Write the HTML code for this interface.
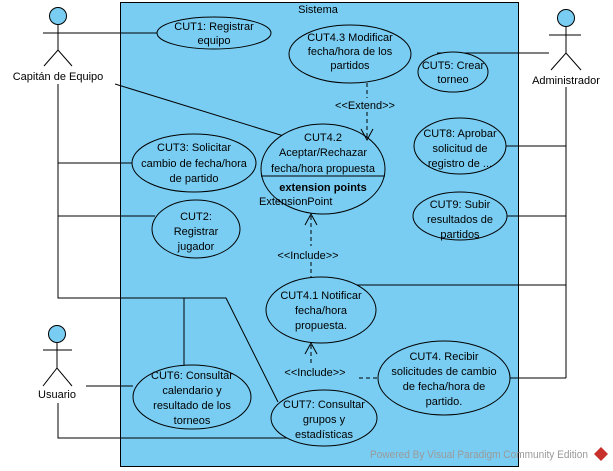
<!DOCTYPE html>
<html><head><meta charset="utf-8"><style>
html,body{margin:0;padding:0;background:#fff;}
svg{display:block;}
text{font-family:"Liberation Sans",sans-serif;font-size:11px;fill:#000;}
</style></head><body>
<svg width="613" height="471" viewBox="0 0 613 471" xmlns="http://www.w3.org/2000/svg">
<rect x="120.5" y="2.5" width="398" height="464" fill="#79cdf2" stroke="#000"/>
<text x="318" y="13" text-anchor="middle">Sistema</text>
<g stroke="#000" fill="none" stroke-width="1">
<circle cx="58" cy="16" r="8.5" fill="#79cdf2"/>
<line x1="58" y1="25" x2="58" y2="50"/>
<line x1="43" y1="33" x2="157" y2="33"/>
<polyline points="44,66 58,50 72,66"/>
<polyline points="58,84 58,298 226,298 278,402"/>
<line x1="184" y1="298" x2="184" y2="365"/>
<line x1="58" y1="163" x2="133" y2="163"/>
<line x1="58" y1="216" x2="155" y2="216"/>
<line x1="115" y1="84" x2="287" y2="137"/>
<circle cx="57" cy="334" r="8.5" fill="#79cdf2"/>
<line x1="57" y1="343" x2="57" y2="368"/>
<line x1="43" y1="350" x2="72" y2="350"/>
<polyline points="43,386 57,368 72,386"/>
<line x1="86" y1="386" x2="133" y2="386"/>
<polyline points="58,403 58,438 292,438"/>
<circle cx="566" cy="18" r="8.5" fill="#79cdf2"/>
<line x1="566" y1="27" x2="566" y2="53"/>
<line x1="549" y1="35" x2="581" y2="35"/>
<polyline points="551,70 566,53 581,70"/>
<line x1="437" y1="53" x2="549" y2="53"/>
<line x1="566" y1="87" x2="566" y2="378"/>
<line x1="506" y1="146" x2="566" y2="146"/>
<line x1="507" y1="216" x2="566" y2="216"/>
<polyline points="357,285 566,285"/>
<line x1="510" y1="378" x2="566" y2="378"/>
</g>
<g stroke="#000" fill="#79cdf2">
<ellipse cx="214" cy="33" rx="57" ry="16"/>
<ellipse cx="350" cy="54" rx="61" ry="29"/>
<ellipse cx="453" cy="72" rx="35" ry="20"/>
<ellipse cx="194" cy="163" rx="62" ry="29"/>
<ellipse cx="323" cy="169" rx="62" ry="45"/>
<ellipse cx="460" cy="146" rx="46" ry="28"/>
<ellipse cx="196" cy="229" rx="44" ry="29"/>
<ellipse cx="460" cy="216" rx="47" ry="24"/>
<ellipse cx="321" cy="310" rx="55" ry="33"/>
<ellipse cx="444" cy="378" rx="66" ry="37"/>
<ellipse cx="192" cy="397" rx="59" ry="32"/>
<ellipse cx="324" cy="418" rx="53" ry="28"/>
</g>
<line x1="261" y1="176" x2="385" y2="176" stroke="#000"/>
<g stroke="#000" fill="none" stroke-dasharray="4,3">
<line x1="367" y1="83" x2="367" y2="98"/>
<line x1="367" y1="112" x2="367" y2="139"/>
<line x1="311" y1="216" x2="311" y2="246"/>
<line x1="311" y1="262" x2="311" y2="277"/>
<line x1="311" y1="345" x2="311" y2="364"/>
<line x1="359" y1="378" x2="379" y2="378"/>
</g>
<g stroke="#000" fill="none">
<polyline points="361,129 367,140 373,129"/>
<polyline points="305,225 311,214 317,225"/>
<polyline points="305,354 311,343 317,354"/>
</g>
<g text-anchor="middle">
<text x="214" y="30">CUT1: Registrar</text><text x="214" y="44">equipo</text>
<text x="350" y="41">CUT4.3 Modificar</text><text x="350" y="55">fecha/hora de los</text><text x="350" y="69">partidos</text>
<text x="453" y="69">CUT5: Crear</text><text x="453" y="83">torneo</text>
<text x="365" y="109">&lt;&lt;Extend&gt;&gt;</text>
<text x="323" y="141">CUT4.2</text><text x="323" y="156">Aceptar/Rechazar</text><text x="323" y="172">fecha/hora propuesta</text>
<text x="323" y="191" font-weight="bold">extension points</text>
<text x="194" y="151">CUT3: Solicitar</text><text x="194" y="167">cambio de fecha/hora</text><text x="194" y="182">de partido</text>
<text x="460" y="137">CUT8: Aprobar</text><text x="460" y="152">solicitud de</text><text x="460" y="167">registro de ...</text>
<text x="196" y="220">CUT2:</text><text x="196" y="235">Registrar</text><text x="196" y="250">jugador</text>
<text x="460" y="208">CUT9: Subir</text><text x="460" y="223">resultados de</text><text x="460" y="238">partidos</text>
<text x="308" y="259">&lt;&lt;Include&gt;&gt;</text>
<text x="321" y="299">CUT4.1 Notificar</text><text x="321" y="314">fecha/hora</text><text x="321" y="329">propuesta.</text>
<text x="315" y="376">&lt;&lt;Include&gt;&gt;</text>
<text x="444" y="360">CUT4. Recibir</text><text x="444" y="375">solicitudes de cambio</text><text x="444" y="390">de fecha/hora de</text><text x="444" y="405">partido.</text>
<text x="192" y="379">CUT6: Consultar</text><text x="192" y="394">calendario y</text><text x="192" y="409">resultado de los</text><text x="192" y="424">torneos</text>
<text x="324" y="408">CUT7: Consultar</text><text x="324" y="423">grupos y</text><text x="324" y="438">estadísticas</text>
<text x="58" y="80">Capitán de Equipo</text>
<text x="57" y="398">Usuario</text>
<text x="566" y="84">Administrador</text>
</g>
<text x="259" y="205">ExtensionPoint</text>
<text x="370" y="458" textLength="218" lengthAdjust="spacingAndGlyphs" style="fill:#9a9a9a">Powered By Visual Paradigm Community Edition</text>
<polygon points="601,447 608,454 601,461 594,454" fill="#c8302c"/>
</svg>
</body></html>
